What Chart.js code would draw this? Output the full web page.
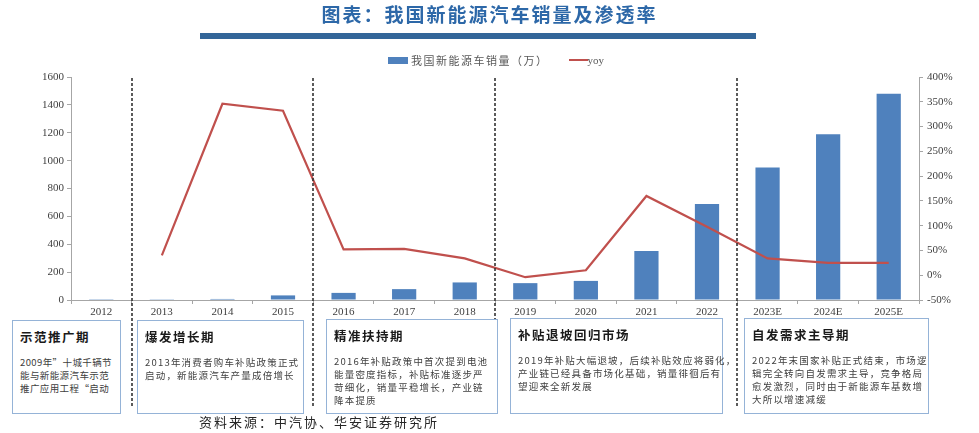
<!DOCTYPE html>
<html>
<head>
<meta charset="utf-8">
<script src="https://cdn.jsdelivr.net/npm/chart.js@4"></script>
<style>
  body { margin: 0; background: #fff; font-family: "Noto Sans CJK SC", sans-serif; }
  #wrap { position: relative; width: 979px; height: 433px; overflow: hidden; }
  #chart { position: absolute; left: 0; top: 0; }
  .title { position: absolute; left: 0; width: 979px; top: 0px; text-align: center; font-size: 19px; font-weight: bold; color: #2d68a8; letter-spacing: 2px; }
  .rule { position: absolute; left: 200px; top: 33px; width: 556px; height: 6px; background: #336699; }
  .legend { position: absolute; top: 50px; left: 388px; font-size: 11px; color: #595959; letter-spacing: 1.5px; white-space: nowrap; }
  .legend span { display: inline-block; vertical-align: middle; }
  .sw-bar { width: 20px; height: 7px; background: #4f81bd; margin-right: 3px; }
  .sw-line { width: 19px; height: 2px; background: #c0504d; margin-left: 20px; }
  .yoy { font-family: "Liberation Serif", serif; letter-spacing: 0; }
  .box { position: absolute; border: 1.5px solid #95b3d7; background: #fff; box-sizing: border-box; padding: 6px 0 0 7px; }
  .box h4 { margin: 0 0 10px 0; font-size: 12.5px; font-weight: bold; color: #1a1a1a; letter-spacing: 1.5px; }
  .box p { margin: 0; font-size: 9.5px; line-height: 13px; color: #404040; letter-spacing: 1.2px; white-space: nowrap; }
  .box.narrow p { letter-spacing: 0.4px; }
  .source { position: absolute; left: 199px; top: 412px; font-size: 13px; color: #262626; letter-spacing: 2px; }
</style>
</head>
<body>
<div id="wrap">
  <canvas id="chart" width="979" height="433"></canvas>
  <div class="title">图表：我国新能源汽车销量及渗透率</div>
  <div class="rule"></div>
  <div class="legend"><span class="sw-bar"></span><span>我国新能源车销量（万）</span><span class="sw-line"></span><span class="yoy">yoy</span></div>

  <div class="box narrow" style="left:12px;top:320px;width:109px;height:94px;">
    <h4>示范推广期</h4>
    <p>2009年”十城千辆节<br>能与新能源汽车示范<br>推广应用工程“启动</p>
  </div>
  <div class="box" style="left:137px;top:320px;width:167px;height:94px;">
    <h4>爆发增长期</h4>
    <p>2013年消费者购车补贴政策正式<br>启动，新能源汽车产量成倍增长</p>
  </div>
  <div class="box" style="left:326px;top:319px;width:172px;height:95px;">
    <h4>精准扶持期</h4>
    <p>2016年补贴政策中首次提到电池<br>能量密度指标，补贴标准逐步严<br>苛细化，销量平稳增长，产业链<br>降本提质</p>
  </div>
  <div class="box" style="left:510px;top:318px;width:213px;height:96px;">
    <h4>补贴退坡回归市场</h4>
    <p>2019年补贴大幅退坡，后续补贴效应将弱化，<br>产业链已经具备市场化基础，销量徘徊后有<br>望迎来全新发展</p>
  </div>
  <div class="box" style="left:744px;top:318px;width:185px;height:96px;">
    <h4>自发需求主导期</h4>
    <p>2022年末国家补贴正式结束，市场逻<br>辑完全转向自发需求主导，竞争格局<br>愈发激烈，同时由于新能源车基数增<br>大所以增速减缓</p>
  </div>
  <div class="source">资料来源：中汽协、华安证券研究所</div>
</div>
<script>
const years = ["2012", "2013", "2014", "2015", "2016", "2017", "2018", "2019", "2020", "2021", "2022", "2023E", "2024E", "2025E"];
const sales = [1.3, 1.8, 7.5, 33, 51, 78, 126, 121, 137, 352, 689, 950, 1190, 1480];
const yoy = [null, 40, 346, 332, 52, 53, 34, -4, 10, 160, 98, 34, 25, 25];
const phaseBreaks = [1, 4, 7, 11];

const phaseLines = {
    id: "phaseLines",
    afterDatasetsDraw(chart) {
        const x = chart.scales.x;
        const c = chart.ctx;
        c.save();
        c.strokeStyle = "#333";
        c.lineWidth = 1.6;
        c.setLineDash([3, 2]);
        phaseBreaks.forEach((i) => {
            const px = Math.round((x.getPixelForValue(i - 1) + x.getPixelForValue(i)) / 2);
            c.beginPath();
            c.moveTo(px, 78);
            c.lineTo(px, 408);
            c.stroke();
        });
        c.restore();
    },
};

const tickFont = { size: 11, family: "Liberation Serif" };

new Chart(document.getElementById("chart"), {
    type: "bar",
    data: {
        labels: years,
        datasets: [
            {
                type: "line",
                label: "yoy",
                data: yoy,
                yAxisID: "y1",
                borderColor: "#c0504d",
                borderWidth: 2.2,
                pointRadius: 0,
                tension: 0,
                order: 0,
            },
            {
                label: "我国新能源车销量（万）",
                data: sales,
                yAxisID: "y",
                backgroundColor: "#4f81bd",
                barPercentage: 0.4,
                categoryPercentage: 1,
                order: 1,
            },
        ],
    },
    options: {
        responsive: false,
        animation: false,
        layout: { padding: { top: 77, left: 0, right: 0, bottom: 0 } },
        plugins: {
            legend: { display: false },
            tooltip: { enabled: false },
        },
        scales: {
            x: {
                afterFit: (s) => { s.height = 133; },
                grid: { drawOnChartArea: false, drawTicks: true, tickLength: 4, color: "#a6a6a6" },
                border: { color: "#a6a6a6" },
                ticks: { color: "#404040", font: tickFont, padding: 2, maxRotation: 0 },
            },
            y: {
                position: "left",
                min: 0,
                max: 1600,
                afterFit: (s) => { s.width = 71; },
                grid: { drawOnChartArea: false, tickLength: 4, color: "#a6a6a6" },
                border: { color: "#a6a6a6" },
                ticks: { stepSize: 200, color: "#404040", font: tickFont, padding: 3, callback: (v) => String(v) },
            },
            y1: {
                position: "right",
                min: -50,
                max: 400,
                afterFit: (s) => { s.width = 60; },
                grid: { drawOnChartArea: false, tickLength: 4, color: "#a6a6a6" },
                border: { color: "#a6a6a6" },
                ticks: { stepSize: 50, color: "#404040", font: tickFont, padding: 4, callback: (v) => v + "%" },
            },
        },
    },
    plugins: [phaseLines],
});
</script>
</body>
</html>
